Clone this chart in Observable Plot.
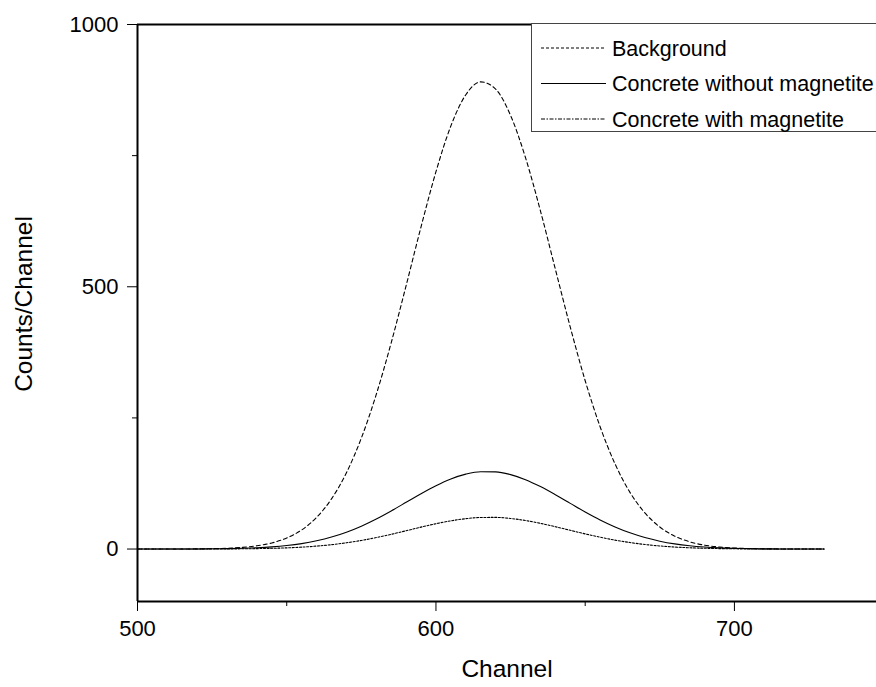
<!DOCTYPE html>
<html>
<head>
<meta charset="utf-8">
<script src="https://cdn.jsdelivr.net/npm/d3@7"></script>
<script src="https://cdn.jsdelivr.net/npm/@observablehq/plot@0.6"></script>
<style>
  html, body { margin: 0; padding: 0; background: #fff; }
  #wrap { position: relative; width: 876px; height: 687px; overflow: hidden; font-family: Arial, "Liberation Sans", sans-serif; }
  #legend { position: absolute; left: 531px; top: 23px; width: 380px; height: 109px; border: 1.5px solid #444; background: #fff; box-sizing: border-box; }
  #legend svg { position: absolute; left: 0; top: 0; }
</style>
</head>
<body>
<div id="wrap"></div>
<script>
// ---- data ----
const channels = [500,505,510,515,520,525,530,535,540,545,550,555,560,565,570,575,580,585,590,595,600,605,610,615,620,625,630,635,640,645,650,655,660,665,670,675,680,685,690,695,700,705,710,715,720,725,730];
const background = [0,0,0.05,0.13,0.3,0.7,1.5,3.1,6.2,11.6,21,36.4,60.3,95.7,145.4,211.6,294.8,393.2,502.2,614.3,719.4,806.7,866.2,890.6,876.8,826.6,746.1,644.8,533.6,423,320.9,233.2,162.3,108.1,68.9,42,24.6,13.8,7.4,3.8,1.9,0.9,0.4,0.2,0.1,0,0];
const withoutMagnetite = [0,0,0.06,0.12,0.23,0.43,0.8,1.44,2.48,4.15,6.69,10.4,15.7,22.8,32.1,43.6,57.3,72.7,89.1,105.6,120.8,133.6,142.8,147.5,147.2,141.9,132.3,119.1,103.6,87.1,70.7,55.5,42.1,30.9,21.9,15,9.9,6.3,3.9,2.3,1.3,0.75,0.4,0.2,0.1,0.05,0];
const withMagnetite = [0,0,0,0.03,0.07,0.13,0.25,0.46,0.81,1.39,2.29,3.65,5.6,8.3,11.9,16.4,21.9,28.1,34.9,41.8,48.3,53.8,57.9,60.2,60.3,58.3,54.4,49,42.6,35.7,28.9,22.6,17,12.4,8.7,5.9,3.85,2.43,1.48,0.87,0.49,0.27,0.14,0.07,0.03,0.01,0];
const seriesNames = ["Background", "Concrete without magnetite", "Concrete with magnetite"];
const xMajorTicks = [500, 600, 700];
const xMinorTicks = [550, 650];
const yMajorTicks = [0, 500, 1000];
const yMinorTicks = [250, 750];
const xTitle = ["Channel"];
const yTitle = ["Counts/Channel"];

const dashes = ["4,3", null, "2,1.6"];
const seriesValues = [background, withoutMagnetite, withMagnetite];
const rows = [];
seriesValues.forEach((vals, si) => {
  channels.forEach((c, i) => rows.push({channel: c, counts: vals[i], series: seriesNames[si]}));
});

const font = 'Arial, "Liberation Sans", sans-serif';
const lineMarks = seriesNames.map((name, si) =>
  Plot.line(rows.filter(r => r.series === name), {
    x: "channel", y: "counts", stroke: "#000", strokeWidth: 1.1,
    strokeDasharray: dashes[si] || undefined, curve: "monotone-x"
  })
);

const chart = Plot.plot({
  width: 876,
  height: 687,
  marginLeft: 137,
  marginRight: 0,
  marginTop: 24,
  marginBottom: 86,
  style: {fontFamily: font, background: "#fff", overflow: "visible"},
  x: {domain: [500, 747.6]},
  y: {domain: [-100, 1000]},
  marks: [
    ...lineMarks,
    Plot.ruleX([500], {stroke: "#000", strokeWidth: 2}),
    Plot.ruleY([1000, -100], {stroke: "#000", strokeWidth: 2}),
    Plot.axisX({ticks: xMajorTicks, tickFormat: d => String(d), tickSize: 10, tickPadding: 9, tickWidth: 2, fontSize: 22, label: null, stroke: "#000", color: "#000"}),
    Plot.axisX({ticks: xMinorTicks, tickSize: 5, tickWidth: 2, text: null, label: null, stroke: "#000"}),
    Plot.axisY({ticks: yMajorTicks, tickFormat: d => String(d), tickSize: 10, tickPadding: 9, tickWidth: 2, fontSize: 22, label: null, stroke: "#000", color: "#000"}),
    Plot.axisY({ticks: yMinorTicks, tickSize: 5, tickWidth: 2, text: null, label: null, stroke: "#000"}),
    Plot.text(xTitle, {frameAnchor: "bottom", dy: 75, text: d => d, fontSize: 24.5, fill: "#000"}),
    Plot.text(yTitle, {frameAnchor: "left", textAnchor: "middle", dx: -113, dy: -9, rotate: -90, text: d => d, fontSize: 24.5, fill: "#000"})
  ]
});
chart.style.display = "block";
const wrap = document.getElementById("wrap");
wrap.appendChild(chart);

// legend
const legend = document.createElement("div");
legend.id = "legend";
const ns = "http://www.w3.org/2000/svg";
const lsvg = document.createElementNS(ns, "svg");
lsvg.setAttribute("width", 380);
lsvg.setAttribute("height", 109);
const legendDash = ["3,2", null, "4,1.5,1.5,1.5"];
seriesNames.forEach((name, i) => {
  const cy = 24 + i * 35.5;
  const ln = document.createElementNS(ns, "line");
  ln.setAttribute("x1", 9); ln.setAttribute("x2", 74);
  ln.setAttribute("y1", cy); ln.setAttribute("y2", cy);
  ln.setAttribute("stroke", "#000"); ln.setAttribute("stroke-width", 1.1);
  if (legendDash[i]) ln.setAttribute("stroke-dasharray", legendDash[i]);
  lsvg.appendChild(ln);
  const t = document.createElementNS(ns, "text");
  t.setAttribute("x", 80); t.setAttribute("y", cy);
  t.setAttribute("dy", "0.35em");
  t.setAttribute("font-size", 21.5);
  t.setAttribute("font-family", font);
  t.textContent = name;
  lsvg.appendChild(t);
});
legend.appendChild(lsvg);
wrap.appendChild(legend);
</script>
</body>
</html>
